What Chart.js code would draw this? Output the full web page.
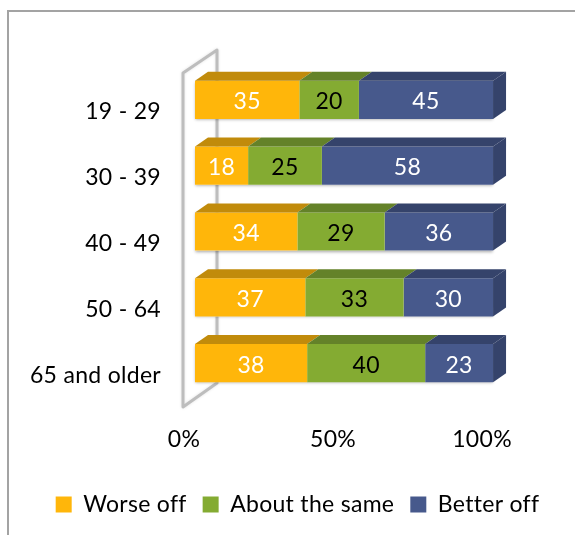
<!DOCTYPE html>
<html>
<head>
  <meta charset="utf-8">
  <meta name="viewport" content="width=device-width, initial-scale=1">
  <title></title>
  <style>
    html, body { margin: 0; padding: 0; background: #fff; overflow: hidden; }
    #frame { position: absolute; left: 7px; top: 10px; right: 0; bottom: 0; border-left: 2px solid #a3a3a3; border-top: 2px solid #a3a3a3; }
    #wrap { position: absolute; left: 0; top: 0; width: 575px; height: 535px; }
  </style>
</head>
<body>
<div id="frame"></div>
<div id="wrap"><canvas id="ageChart"></canvas></div>
<script src="https://cdn.jsdelivr.net/npm/chart.js"></script>
<script type="text/javascript">
    // data
    const ageGroups = ['19 - 29', '30 - 39', '40 - 49', '50 - 64', '65 and older'];
    const worseOff = [35, 18, 34, 37, 38];
    const aboutSame = [20, 25, 29, 33, 40];
    const betterOff = [45, 58, 36, 30, 23];
    const xTicks = [0, 50, 100];

    const fontName = 'Lato, "Open Sans", sans-serif';
    const depthX = 13, depthY = 9;

    // the original is a 100% stacked bar, rows that add to 99 or 101 get scaled
    function toShares(values) {
      return values.map((v, i) => v / (worseOff[i] + aboutSame[i] + betterOff[i]) * 100);
    }

    const series = [
      { label: 'Worse off', raw: worseOff, color: '#FFB60A', top: '#C18B0B', text: '#ffffff' },
      { label: 'About the same', raw: aboutSame, color: '#84AB32', top: '#648229', text: '#000000' },
      { label: 'Better off', raw: betterOff, color: '#47598C', top: '#35436B', text: '#ffffff' }
    ];

    // text in the reference runs a bit wide
    const spacingPlugin = {
      id: 'spacing',
      beforeLayout(chart) { chart.ctx.letterSpacing = '0.3px'; },
      beforeDraw(chart) { chart.ctx.letterSpacing = '0.3px'; }
    };

    // grey wall behind the bars, and the soft edge under each bar
    const wallPlugin = {
      id: 'wall',
      beforeDatasetsDraw(chart) {
        const a = chart.chartArea, c = chart.ctx;
        const l = a.left - 12, r = l + 34;
        c.save();
        c.strokeStyle = '#bdbdbd';
        c.lineWidth = 3;
        c.lineJoin = 'round';
        c.shadowColor = 'rgba(0,0,0,0.12)';
        c.shadowBlur = 3;
        c.beginPath();
        c.moveTo(l, a.top + 6);
        c.lineTo(r, a.top - 17);
        c.lineTo(r, a.bottom - 13);
        c.lineTo(l, a.bottom + 11);
        c.closePath();
        c.stroke();
        c.shadowColor = 'rgba(0,0,0,0.35)';
        c.shadowBlur = 3;
        c.shadowOffsetY = 1;
        c.fillStyle = '#fff';
        chart.getDatasetMeta(series.length - 1).data.forEach(bar => {
          c.fillRect(a.left, bar.y - bar.height / 2, bar.x - a.left, bar.height);
        });
        c.restore();
      }
    };

    // top and side faces plus the value labels
    const facesPlugin = {
      id: 'faces',
      afterDatasetsDraw(chart) {
        const c = chart.ctx;
        c.save();
        series.forEach((s, d) => {
          chart.getDatasetMeta(d).data.forEach(bar => {
            const y = bar.y - bar.height / 2;
            c.fillStyle = s.top;
            c.beginPath();
            c.moveTo(bar.base, y);
            c.lineTo(bar.x, y);
            c.lineTo(bar.x + depthX, y - depthY);
            c.lineTo(bar.base + depthX, y - depthY);
            c.closePath();
            c.fill();
            if (d === series.length - 1) {
              c.beginPath();
              c.moveTo(bar.x, y);
              c.lineTo(bar.x + depthX, y - depthY);
              c.lineTo(bar.x + depthX, y + bar.height - depthY);
              c.lineTo(bar.x, y + bar.height);
              c.closePath();
              c.fill();
            }
          });
        });
        c.font = '23px ' + fontName;
        c.textAlign = 'center';
        c.textBaseline = 'middle';
        series.forEach((s, d) => {
          chart.getDatasetMeta(d).data.forEach((bar, i) => {
            c.fillStyle = s.text;
            c.fillText(s.raw[i], (bar.base + bar.x) / 2, bar.y + 2);
          });
        });
        c.restore();
      }
    };

    const config = {
      type: 'bar',
      data: {
        labels: ageGroups,
        datasets: series.map(s => ({
          label: s.label,
          data: toShares(s.raw),
          backgroundColor: s.color,
          borderWidth: 0,
          categoryPercentage: 1,
          barPercentage: 0.58
        }))
      },
      options: {
        indexAxis: 'y',
        responsive: false,
        animation: false,
        layout: { padding: { left: 20, right: 0, top: 67, bottom: 9 } },
        scales: {
          x: {
            stacked: true,
            min: 0,
            max: 127.5, // leaves the margin right of the bars, legend needs the full width
            afterBuildTicks(axis) { axis.ticks = xTicks.map(v => ({ value: v })); },
            afterFit(axis) { axis.height = 81; },
            grid: { display: false },
            border: { display: false },
            ticks: {
              padding: 22,
              labelOffset: -11,
              color: '#000',
              font: { family: fontName, size: 23 },
              maxRotation: 0,
              callback: v => v + '%'
            }
          },
          y: {
            stacked: true,
            afterFit(axis) { axis.width = 175; },
            grid: { display: false },
            border: { display: false },
            ticks: {
              padding: 26,
              labelOffset: 12,
              color: '#000',
              font: { family: fontName, size: 23 }
            }
          }
        },
        plugins: {
          tooltip: { enabled: false },
          legend: {
            position: 'bottom',
            labels: {
              color: '#000',
              boxWidth: 16,
              boxHeight: 16,
              padding: 16,
              font: { family: fontName, size: 23 }
            }
          }
        }
      },
      plugins: [spacingPlugin, wallPlugin, facesPlugin]
    };

    const canvas = document.getElementById('ageChart');
    canvas.width = 575;
    canvas.height = 535;
    const ageChart = new Chart(canvas, config);
</script>
</body>
</html>
